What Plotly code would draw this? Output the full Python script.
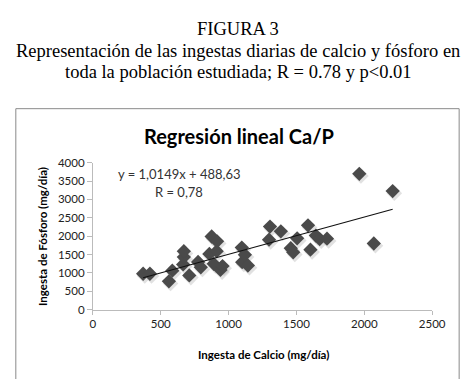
import numpy as np
import plotly.graph_objects as go

# Data
calcio = [370, 420, 560, 585, 665, 670, 670, 710, 775, 795, 858, 875, 890, 912, 915,
          940, 955, 1097, 1100, 1120, 1142, 1298, 1305, 1385, 1458, 1476, 1505, 1585,
          1603, 1643, 1671, 1725, 1963, 2070, 2209]
fosforo = [975, 975, 770, 1060, 1230, 1430, 1590, 930, 1295, 1150, 1515, 1990, 1245, 1590, 1860,
           1080, 1185, 1688, 1290, 1490, 1200, 1904, 2260, 2130, 1670, 1558, 1940, 2294,
           1630, 2016, 1920, 1931, 3697, 1800, 3229]
slope = 1.0149
intercept = 488.63
x_ticks = [0, 500, 1000, 1500, 2000, 2500]
y_ticks = [0, 500, 1000, 1500, 2000, 2500, 3000, 3500, 4000]

W, H = 469, 379
def px(x): return x / W
def py(y): return 1 - y / H

fig = go.Figure()

# light shadow for markers
fig.add_trace(go.Scatter(x=[c + 12 for c in calcio], y=[f - 60 for f in fosforo], mode="markers",
                         marker=dict(symbol="diamond", size=12, color="rgba(170,170,170,0.35)"),
                         hoverinfo="skip", showlegend=False))
fig.add_trace(go.Scatter(x=calcio, y=fosforo, mode="markers",
                         marker=dict(symbol="diamond", size=11, color="#4a4a4a"),
                         showlegend=False))
xl = np.array([min(calcio), max(calcio)])
fig.add_trace(go.Scatter(x=xl, y=slope * xl + intercept, mode="lines",
                         line=dict(color="#111111", width=1.1), showlegend=False))

sans = "Lato, Open Sans, sans-serif"
axis_font = dict(family=sans, size=11.5, color="#222")
fig.update_layout(
    width=W, height=H,
    margin=dict(l=0, r=0, t=0, b=0),
    paper_bgcolor="white", plot_bgcolor="white",
    xaxis=dict(domain=[px(85), px(437)], range=[0, 2500], tickvals=x_ticks,
               showgrid=False, zeroline=False, showline=True, linecolor="#bbbbbb",
               ticks="outside", ticklen=4, tickcolor="#bbbbbb", tickfont=axis_font,
               fixedrange=True),
    yaxis=dict(domain=[py(305), py(153)], range=[0, 4000], tickvals=y_ticks,
               showgrid=False, zeroline=False, showline=True, linecolor="#bbbbbb",
               ticks="outside", ticklen=5, tickcolor="#bbbbbb", tickfont=axis_font,
               fixedrange=True),
    shapes=[dict(type="rect", xref="paper", yref="paper",
                 x0=px(5), x1=px(465), y0=py(378), y1=py(97),
                 line=dict(color="#8a8a8a", width=1))],
)

serif = "Liberation Serif, Times New Roman, serif"
ann = [
    dict(text="FIGURA 3", x=px(236), y=py(14), size=18.5, family=serif, color="#000"),
    dict(text="Representación de las ingestas diarias de calcio y fósforo en", x=px(236), y=py(37),
         size=18.5, family=serif, color="#000"),
    dict(text="toda la población estudiada; R = 0.78 y p<0.01", x=px(236), y=py(59),
         size=18.5, family=serif, color="#000"),
    dict(text="<b>Regresión lineal Ca/P</b>", x=px(237), y=py(125), size=20,
         family=sans, color="#000"),
    dict(text="y = 1,0149x + 488,63", x=px(175), y=py(165), size=13,
         family=sans, color="#333"),
    dict(text="R = 0,78", x=px(174), y=py(183), size=13,
         family=sans, color="#333"),
    dict(text="<b>Ingesta de Calcio (mg/día)</b>", x=px(262), y=py(352), size=11.5,
         family=sans, color="#000"),
]
annotations = []
for a in ann:
    annotations.append(dict(text=a["text"], x=a["x"], y=a["y"], xref="paper", yref="paper",
                            showarrow=False, xanchor="center", yanchor="middle",
                            font=dict(size=a["size"], family=a["family"], color=a["color"])))
annotations.append(dict(text="<b>Ingesta de Fósforo (mg/día)</b>", x=px(32), y=py(229),
                        xref="paper", yref="paper", showarrow=False, textangle=-90,
                        xanchor="center", yanchor="middle",
                        font=dict(size=11.5, family=sans, color="#000")))
fig.update_layout(annotations=annotations)

fig.write_html("out.html")
